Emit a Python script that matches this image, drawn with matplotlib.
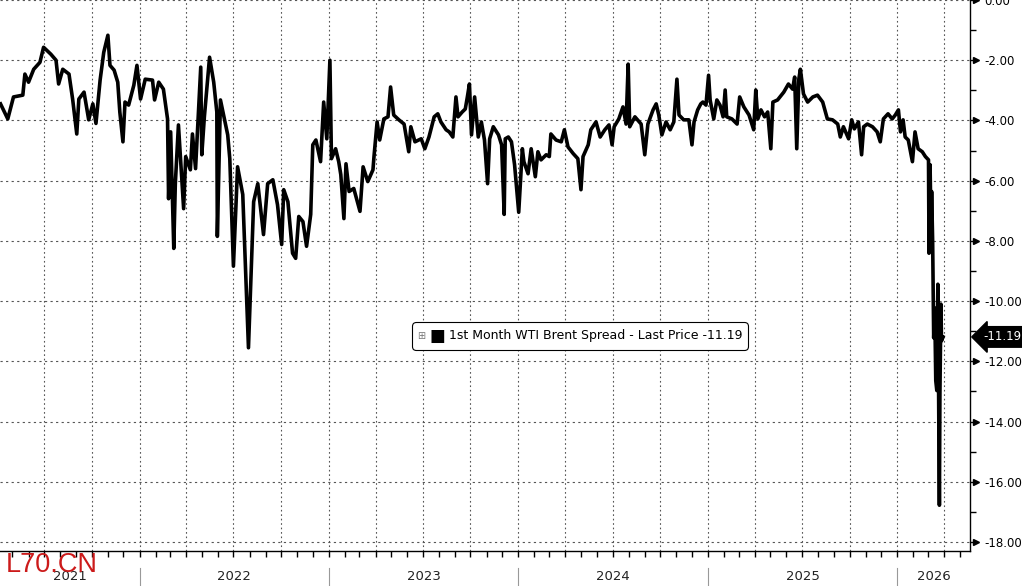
import matplotlib
matplotlib.use("Agg")
import matplotlib.pyplot as plt
import matplotlib.dates as mdates
from matplotlib.ticker import FormatStrFormatter, NullFormatter, MultipleLocator
from matplotlib.offsetbox import TextArea, HPacker, AnchoredOffsetbox
import pandas as pd

# 1st Month WTI-Brent spread
dates = [
    # 2021
    "2021-04-08", "2021-04-22", "2021-05-03", "2021-05-21", "2021-05-25", "2021-06-01", "2021-06-11",
    "2021-06-23", "2021-06-30", "2021-07-14", "2021-07-24", "2021-07-29", "2021-08-06", "2021-08-18",
    "2021-08-25", "2021-09-02", "2021-09-06", "2021-09-16", "2021-09-25", "2021-10-03", "2021-10-09",
    "2021-10-17", "2021-10-24", "2021-11-01", "2021-11-05", "2021-11-13", "2021-11-20", "2021-11-24",
    "2021-11-30", "2021-12-04", "2021-12-11", "2021-12-21", "2021-12-27",
    # 2022
    "2022-01-03", "2022-01-12", "2022-01-26", "2022-01-30", "2022-02-07", "2022-02-16", "2022-02-24",
    "2022-02-26", "2022-03-02", "2022-03-08", "2022-03-11", "2022-03-17", "2022-03-27", "2022-03-31",
    "2022-04-09", "2022-04-13", "2022-04-19", "2022-04-29", "2022-05-01", "2022-05-06", "2022-05-16",
    "2022-05-24", "2022-05-30", "2022-05-31", "2022-06-06", "2022-06-14", "2022-06-20", "2022-06-24",
    "2022-07-01", "2022-07-09", "2022-07-19", "2022-07-30", "2022-08-09", "2022-08-17", "2022-08-28",
    "2022-09-05", "2022-09-15", "2022-09-24", "2022-10-02", "2022-10-06", "2022-10-14", "2022-10-23",
    "2022-10-29", "2022-11-04", "2022-11-12", "2022-11-19", "2022-11-27", "2022-12-01", "2022-12-07",
    "2022-12-16", "2022-12-22", "2022-12-28",
    # 2023
    "2023-01-03", "2023-01-06", "2023-01-14", "2023-01-20", "2023-01-24", "2023-01-30", "2023-02-03",
    "2023-02-09", "2023-02-18", "2023-03-02", "2023-03-08", "2023-03-17", "2023-03-27", "2023-03-29",
    "2023-04-04", "2023-04-09", "2023-04-17", "2023-04-25", "2023-04-30", "2023-05-06", "2023-05-16",
    "2023-05-26", "2023-06-04", "2023-06-08", "2023-06-16", "2023-06-28", "2023-07-05", "2023-07-13",
    "2023-07-23", "2023-07-30", "2023-08-05", "2023-08-15", "2023-08-21", "2023-08-28", "2023-09-03",
    "2023-09-07", "2023-09-15", "2023-09-21", "2023-09-25", "2023-09-29", "2023-10-03", "2023-10-09",
    "2023-10-16", "2023-10-22", "2023-10-28", "2023-11-03", "2023-11-07", "2023-11-14", "2023-11-24",
    "2023-11-30", "2023-12-05", "2023-12-07", "2023-12-13", "2023-12-19", "2023-12-25",
    # 2024
    "2024-01-02", "2024-01-09", "2024-01-12", "2024-01-20", "2024-01-26", "2024-02-03", "2024-02-08",
    "2024-02-14", "2024-02-24", "2024-03-01", "2024-03-04", "2024-03-14", "2024-03-24", "2024-03-30",
    "2024-04-06", "2024-04-16", "2024-04-25", "2024-05-01", "2024-05-05", "2024-05-15", "2024-05-20",
    "2024-05-30", "2024-06-07", "2024-06-16", "2024-06-24", "2024-06-30", "2024-07-04", "2024-07-13",
    "2024-07-21", "2024-07-27", "2024-07-31", "2024-08-03", "2024-08-13", "2024-08-25", "2024-09-01",
    "2024-09-07", "2024-09-17", "2024-09-23", "2024-09-28", "2024-10-04", "2024-10-12", "2024-10-20",
    "2024-10-27", "2024-11-02", "2024-11-06", "2024-11-15", "2024-11-25", "2024-12-01", "2024-12-05",
    "2024-12-12", "2024-12-18", "2024-12-22", "2024-12-28",
    # 2025
    "2025-01-02", "2025-01-05", "2025-01-12", "2025-01-18", "2025-01-24", "2025-01-30", "2025-02-03",
    "2025-02-06", "2025-02-16", "2025-02-26", "2025-03-03", "2025-03-11", "2025-03-21", "2025-03-30",
    "2025-04-03", "2025-04-07", "2025-04-13", "2025-04-20", "2025-04-26", "2025-05-02", "2025-05-06",
    "2025-05-15", "2025-05-27", "2025-06-05", "2025-06-13", "2025-06-17", "2025-06-21", "2025-06-25",
    "2025-06-28", "2025-07-04", "2025-07-12", "2025-07-22", "2025-07-31", "2025-08-10", "2025-08-19",
    "2025-08-29", "2025-09-08", "2025-09-13", "2025-09-19", "2025-09-29", "2025-10-05", "2025-10-10",
    "2025-10-18", "2025-10-24", "2025-10-28", "2025-11-04", "2025-11-14", "2025-11-23", "2025-11-29",
    "2025-12-05", "2025-12-14", "2025-12-22", "2025-12-28",
    # 2026
    "2026-01-03", "2026-01-07", "2026-01-12", "2026-01-16", "2026-01-22", "2026-01-30", "2026-02-04",
    "2026-02-10", "2026-02-18", "2026-02-24", "2026-03-02", "2026-03-03", "2026-03-05", "2026-03-07",
    "2026-03-08", "2026-03-10", "2026-03-12", "2026-03-14", "2026-03-16", "2026-03-18", "2026-03-20",
    "2026-03-23", "2026-03-24", "2026-03-26", "2026-03-27", "2026-03-30",
]
spread = [
    # 2021
    -3.45, -3.95, -3.22, -3.16, -2.46, -2.73, -2.30,
    -2.07, -1.57, -1.80, -2.00, -2.79, -2.30, -2.46,
    -3.29, -4.45, -3.29, -3.06, -3.98, -3.45, -4.10,
    -2.66, -1.74, -1.17, -2.17, -2.33, -2.73, -3.72,
    -4.71, -3.39, -3.49, -2.83, -2.17,
    # 2022
    -3.29, -2.63, -2.66, -3.32, -2.73, -2.96, -3.95,
    -6.60, -4.38, -8.25, -6.10, -4.15, -6.93, -5.20,
    -5.64, -4.45, -5.60, -2.23, -5.14, -3.88, -1.90,
    -2.73, -3.72, -7.85, -3.32, -3.98, -4.48, -5.27,
    -8.84, -5.54, -6.46, -11.55, -6.70, -6.10, -7.79,
    -6.10, -5.97, -6.80, -8.12, -6.30, -6.70, -8.41,
    -8.58, -7.19, -7.36, -8.18, -7.12, -4.81, -4.65,
    -5.37, -3.39, -4.61,
    # 2023
    -2.00, -5.27, -4.94, -5.37, -5.80, -7.26, -5.44,
    -6.36, -6.26, -7.02, -5.54, -6.03, -5.64, -5.20,
    -4.05, -4.65, -3.95, -3.88, -2.89, -3.82, -3.98,
    -4.12, -5.04, -4.21, -4.71, -4.61, -4.94, -4.55,
    -3.88, -3.78, -4.05, -4.31, -4.38, -4.55, -3.22,
    -3.88, -3.72, -3.62, -3.22, -2.79, -4.48, -3.22,
    -4.55, -4.05, -4.65, -6.10, -4.61, -4.21, -4.48,
    -4.81, -7.12, -4.61, -4.55, -4.71, -5.47,
    # 2024
    -7.05, -4.94, -5.37, -5.77, -4.94, -5.87, -5.04,
    -5.31, -5.14, -5.20, -4.45, -4.65, -4.71, -4.31,
    -4.88, -5.10, -5.27, -6.30, -5.20, -4.81, -4.31,
    -4.05, -4.55, -4.31, -4.15, -4.81, -4.21, -3.95,
    -3.55, -4.12, -2.13, -4.21, -3.88, -4.12, -5.14,
    -4.12, -3.65, -3.45, -3.82, -4.48, -4.05, -4.31,
    -4.05, -2.63, -3.82, -3.98, -3.98, -4.81, -4.05,
    -3.65, -3.45, -3.39, -3.49,
    # 2025
    -2.50, -3.32, -3.95, -3.32, -3.49, -3.88, -2.99,
    -3.88, -3.95, -4.12, -3.22, -3.55, -3.82, -4.31,
    -2.99, -3.95, -3.65, -3.88, -3.72, -4.94, -3.39,
    -3.32, -3.06, -2.79, -2.96, -2.56, -4.94, -2.63,
    -2.30, -3.12, -3.39, -3.22, -3.16, -3.39, -3.95,
    -3.98, -4.12, -4.55, -4.21, -4.61, -3.98, -4.28,
    -4.05, -5.14, -4.21, -4.12, -4.21, -4.38, -4.71,
    -3.95, -3.78, -3.95, -3.82,
    # 2026
    -3.65, -4.38, -3.98, -4.55, -4.65, -5.37, -4.38,
    -4.94, -5.04, -5.20, -5.31, -8.41, -5.47, -7.59,
    -6.36, -8.02, -11.22, -10.23, -12.64, -12.97, -9.44,
    -16.78, -13.07, -10.10, -11.32, -11.19,
]
years = [2021, 2022, 2023, 2024, 2025, 2026]
series_label = "1st Month WTI Brent Spread - Last Price -11.19"
last_price = -11.19

x = pd.to_datetime(dates)
x_start = pd.Timestamp("2021-04-07")
x_end = pd.Timestamp("2026-05-21")

fig = plt.figure(figsize=(10.22, 5.86), dpi=100)
ax = fig.add_axes([0, 35 / 586, 970 / 1022, 551 / 586])

ax.plot(x, spread, color="black", lw=2.6)

ax.set_xlim(x_start, x_end)
ax.set_ylim(-18.30, 0.0)

# right-hand value axis
yt = list(range(0, -19, -2))
ax.set_yticks(yt)
ax.yaxis.set_minor_locator(MultipleLocator(1))
ax.yaxis.set_major_formatter(FormatStrFormatter("%.2f"))
ax.yaxis.tick_right()
ax.tick_params(axis="y", which="major", direction="out", length=4, width=1,
               pad=6, labelsize=8.5, colors="black")
ax.tick_params(axis="y", which="minor", direction="out", length=4, width=1)
ax.plot([1.006] * len(yt), yt, ls="none", marker=">", ms=5, color="black",
        transform=ax.get_yaxis_transform(), clip_on=False)

# bottom time axis: monthly ticks, quarterly grid
ax.xaxis.set_major_locator(mdates.MonthLocator(bymonth=[1, 4, 7, 10]))
ax.xaxis.set_minor_locator(mdates.MonthLocator())
ax.xaxis.set_major_formatter(NullFormatter())
ax.tick_params(axis="x", which="both", direction="out", length=4, width=1)

ax.grid(axis="x", which="major", ls=(0, (1.5, 2.5)), color="#555555", lw=0.8)
ax.grid(axis="y", which="major", ls=(0, (2, 3)), color="#555555", lw=0.8)

for s in ["top", "left"]:
    ax.spines[s].set_visible(False)
for s in ["bottom", "right"]:
    ax.spines[s].set_color("black")
    ax.spines[s].set_linewidth(1)

# year labels and separators under the axis
xt = ax.get_xaxis_transform()
for yr in years:
    y0 = max(pd.Timestamp(f"{yr}-01-01"), x_start)
    y1 = min(pd.Timestamp(f"{yr + 1}-01-01"), x_end)
    ax.text(y0 + (y1 - y0) / 2, -0.047, str(yr), transform=xt, ha="center", va="center",
            fontsize=9.5, color="#222222")
    if yr > years[0]:
        ax.plot([y0, y0], [-0.031, -0.08], transform=xt, clip_on=False, color="#999999", lw=0.8)

# last price tag
ax.text(1.0135, last_price, f"{last_price:.2f}", transform=ax.get_yaxis_transform(),
        color="white", fontsize=8.5, ha="left", va="center", zorder=5,
        bbox=dict(boxstyle="larrow,pad=0.32", fc="black", ec="black"))

# legend box
leg = HPacker(children=[
    TextArea("\u229e", textprops=dict(color="#777777", fontsize=7)),
    TextArea("\u25a0", textprops=dict(color="black", fontsize=12)),
    TextArea(series_label, textprops=dict(color="black", fontsize=9)),
], align="center", pad=0, sep=3)
box = AnchoredOffsetbox(loc="center", child=leg, pad=0.35, frameon=True,
                        bbox_to_anchor=(580 / 970, 1 - 336 / 551),
                        bbox_transform=ax.transAxes, borderpad=0)
box.patch.set_boxstyle("round,pad=0,rounding_size=0.3")
box.patch.set_edgecolor("black")
box.patch.set_linewidth(0.8)
ax.add_artist(box)

# watermark
fig.text(6 / 1022, 0.035, "L70.CN", color="#cc1a1a", fontsize=19.5,
         family="Liberation Sans", ha="left", va="center")

fig.savefig("out.png", dpi=100)
